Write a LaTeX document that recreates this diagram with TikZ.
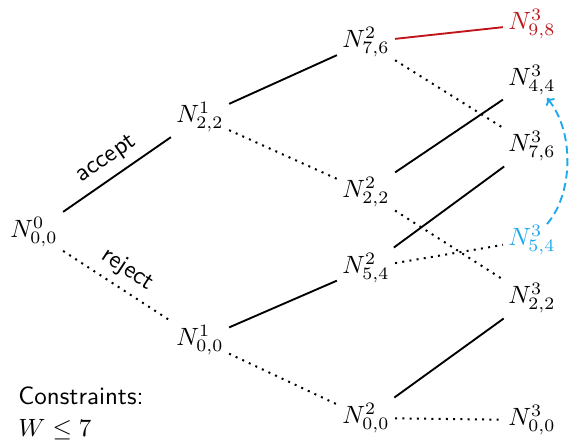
\documentclass[tikz,border=0pt]{standalone}
\usetikzlibrary{arrows.meta}
\definecolor{myred}{RGB}{190,22,26}
\definecolor{myblue}{RGB}{30,168,238}
\begin{document}
\begin{tikzpicture}[x=0.4pt,y=-0.4pt,
  nd/.style={inner sep=2pt,font=\normalsize},
  acc/.style={line width=0.75pt},
  rej/.style={line width=0.8pt,dotted,dash pattern=on 0.8pt off 2.1pt},
  lbl/.style={font=\sffamily,midway,above,sloped,inner sep=3pt}]
\useasboundingbox (0,0) rectangle (571,443);
\node[nd] (a) at (34,232) {$N^0_{0,0}$};
\node[nd] (b1) at (200,117) {$N^1_{2,2}$};
\node[nd] (b0) at (200,340) {$N^1_{0,0}$};
\node[nd] (c76) at (366,42) {$N^2_{7,6}$};
\node[nd] (c22) at (366,192) {$N^2_{2,2}$};
\node[nd] (c54) at (366,268) {$N^2_{5,4}$};
\node[nd] (c00) at (366,418) {$N^2_{0,0}$};
\node[nd,text=myred] (d98) at (532,24) {$N^3_{9,8}$};
\node[nd] (d44) at (532,80) {$N^3_{4,4}$};
\node[nd] (d76) at (532,146) {$N^3_{7,6}$};
\node[nd,text=myblue] (d54) at (532,240) {$N^3_{5,4}$};
\node[nd] (d22) at (532,298) {$N^3_{2,2}$};
\node[nd] (d00) at (532,420) {$N^3_{0,0}$};
\node[font=\sffamily,align=left,anchor=north west,inner sep=0pt] (cons) at (18,386) {Constraints:\\[1pt] $W \le 7$};

\draw[acc] (a) -- node[lbl] {accept} (b1);
\draw[rej] (a) -- node[lbl] {reject} (b0);
\draw[acc] (b1) -- (c76);
\draw[rej] (b1) -- (c22);
\draw[acc] (b0) -- (c54);
\draw[rej] (b0) -- (c00);
\draw[acc,myred] (c76) -- (d98);
\draw[rej] (c76) -- (d76);
\draw[acc] (c22) -- (d44);
\draw[rej] (c22) -- (d22);
\draw[acc] (c54) -- (d76);
\draw[rej] (c54) -- (d54);
\draw[acc] (c00) -- (d22);
\draw[rej] (c00) -- (d00);
\draw[myblue,line width=0.75pt,dash pattern=on 3.2pt off 1.8pt,-{To[length=2.5pt,width=4.5pt]}]
  ([shift={(15,-16)}]d54.center) .. controls +(26,-30) and +(28,34) .. ([shift={(15,18)}]d44.center);
\end{tikzpicture}
\end{document}
